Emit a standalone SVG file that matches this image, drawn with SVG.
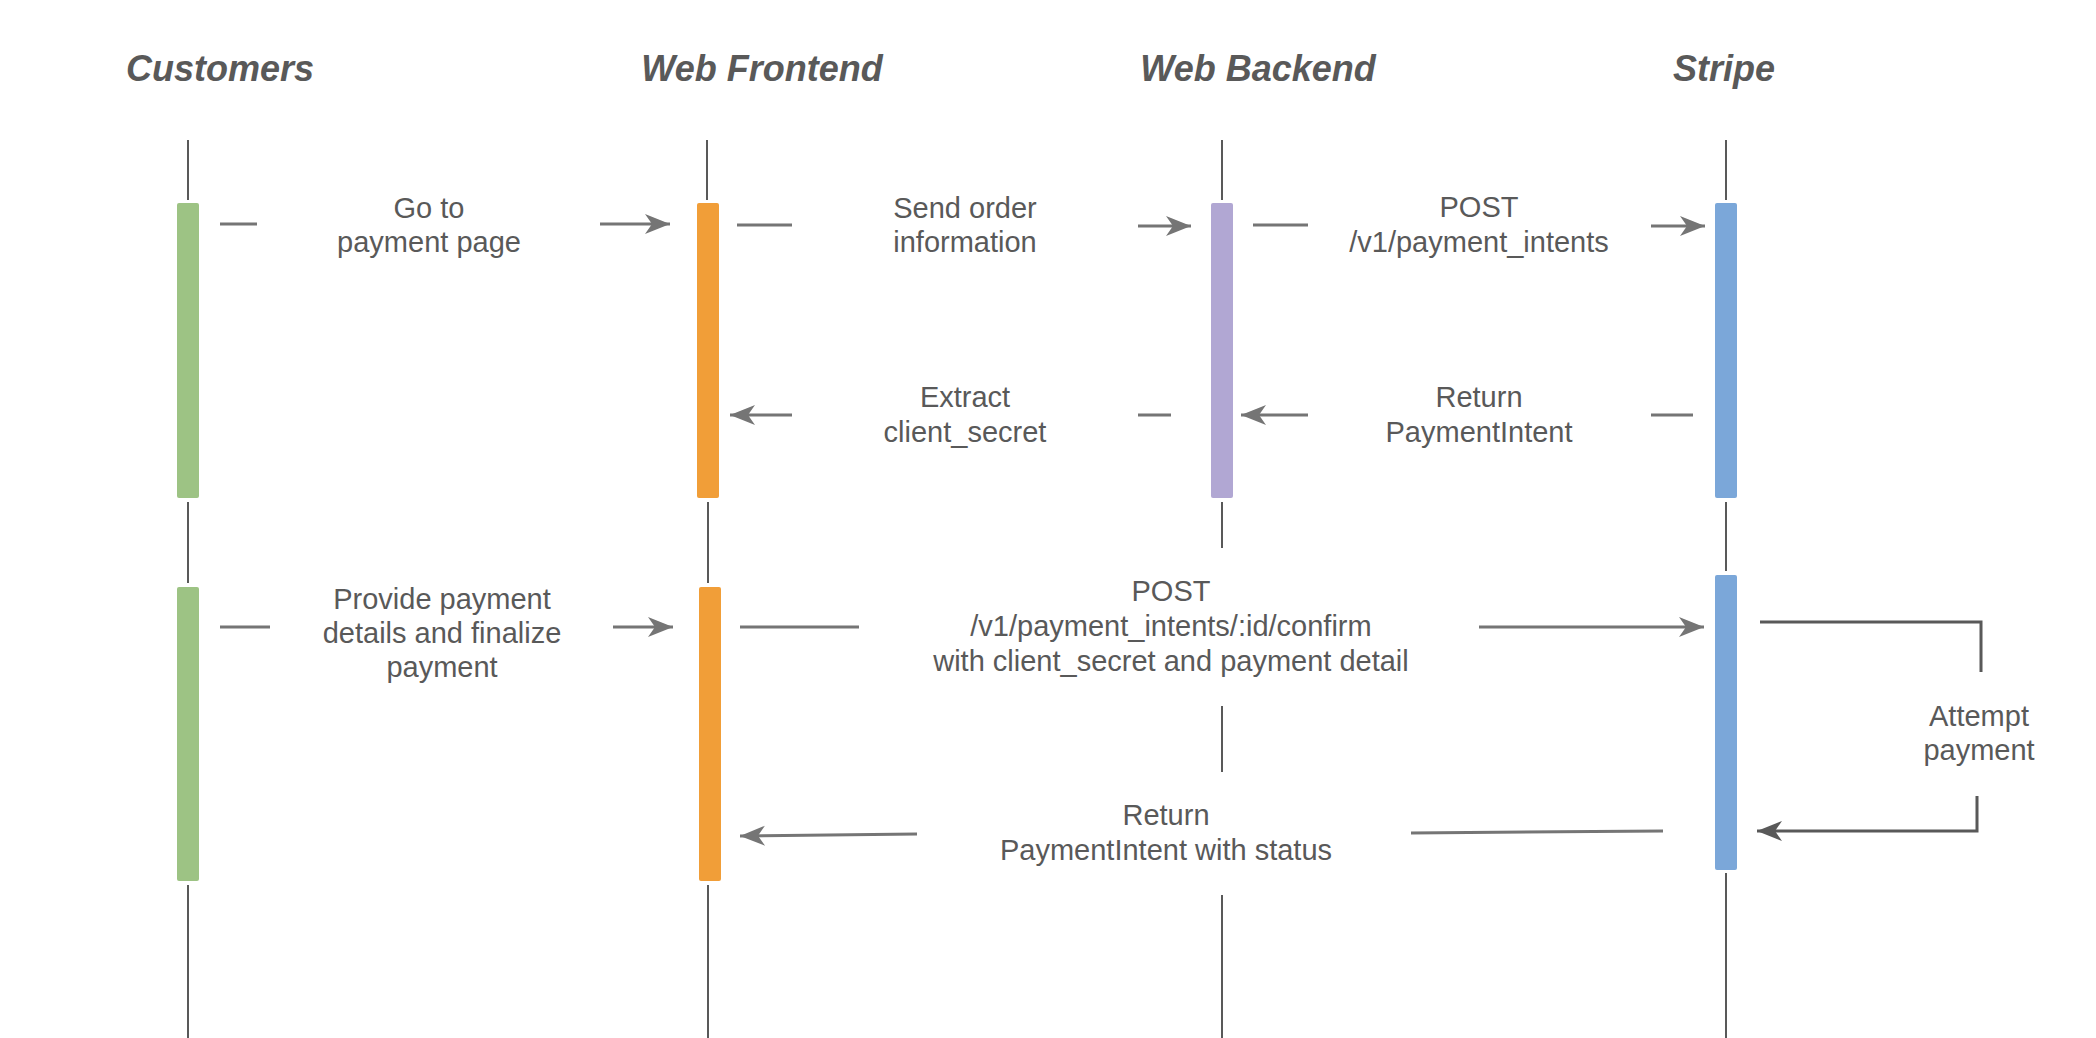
<svg xmlns="http://www.w3.org/2000/svg" width="2096" height="1038" viewBox="0 0 2096 1038">
<style>
.hdr{font-family:"Liberation Sans",Arial,sans-serif;font-size:36px;font-weight:bold;font-style:italic;fill:#595959;text-anchor:middle}
.lbl{font-family:"Liberation Sans",Arial,sans-serif;font-size:29px;fill:#595959;text-anchor:middle}
.life{stroke:#595959;stroke-width:2;fill:none}
.conn{stroke:#757575;stroke-width:3;fill:none}
.loop{stroke:#595959;stroke-width:3;fill:none}
.green{fill:#9dc384}
.orange{fill:#f19e38}
.purple{fill:#b1a7d3}
.blue{fill:#7ba7d9}
</style>
<defs>
<marker id="ah" markerUnits="userSpaceOnUse" markerWidth="30" markerHeight="26" viewBox="-26 -13 30 26" refX="0" refY="0" orient="auto">
<path d="M0,0 L-25,-10 L-18,0 L-25,10 Z" fill="#757575"/>
</marker>
<marker id="ah2" markerUnits="userSpaceOnUse" markerWidth="30" markerHeight="26" viewBox="-26 -13 30 26" refX="0" refY="0" orient="auto">
<path d="M0,0 L-25,-10 L-18,0 L-25,10 Z" fill="#595959"/>
</marker>
</defs>
<rect width="2096" height="1038" fill="#ffffff"/>

<g id="customers">
<text class="hdr" x="220" y="81">Customers</text>
<path class="life" d="M188,140V200M188,502V583M188,885V1038"/>
<rect class="green" x="177" y="203" width="22" height="295" rx="2"/>
<rect class="green" x="177" y="587" width="22" height="294" rx="2"/>
</g>

<g id="web-frontend">
<text class="hdr" x="762" y="81">Web Frontend</text>
<path class="life" d="M707,140V200M708,502V583M708,885V1038"/>
<rect class="orange" x="697" y="203" width="22" height="295" rx="2"/>
<rect class="orange" x="699" y="587" width="22" height="294" rx="2"/>
</g>

<g id="web-backend">
<text class="hdr" x="1258" y="81">Web Backend</text>
<path class="life" d="M1222,140V200M1222,502V548M1222,706V772M1222,895V1038"/>
<rect class="purple" x="1211" y="203" width="22" height="295" rx="2"/>
</g>

<g id="stripe">
<text class="hdr" x="1724" y="81">Stripe</text>
<path class="life" d="M1726,140V200M1726,502V571M1726,873V1038"/>
<rect class="blue" x="1715" y="203" width="22" height="295" rx="2"/>
<rect class="blue" x="1715" y="575" width="22" height="295" rx="2"/>
</g>

<g id="connectors">
<line class="conn" x1="220" y1="224" x2="257" y2="224"/>
<line class="conn" x1="600" y1="224" x2="670" y2="224" marker-end="url(#ah)"/>
<line class="conn" x1="737" y1="225" x2="792" y2="225"/>
<line class="conn" x1="1138" y1="226" x2="1191" y2="226" marker-end="url(#ah)"/>
<line class="conn" x1="1253" y1="225" x2="1308" y2="225"/>
<line class="conn" x1="1651" y1="226" x2="1705" y2="226" marker-end="url(#ah)"/>
<line class="conn" x1="1693" y1="415" x2="1651" y2="415"/>
<line class="conn" x1="1308" y1="415" x2="1241" y2="415" marker-end="url(#ah)"/>
<line class="conn" x1="1171" y1="415" x2="1138" y2="415"/>
<line class="conn" x1="792" y1="415" x2="730" y2="415" marker-end="url(#ah)"/>
<line class="conn" x1="220" y1="627" x2="270" y2="627"/>
<line class="conn" x1="613" y1="627" x2="673" y2="627" marker-end="url(#ah)"/>
<line class="conn" x1="740" y1="627" x2="859" y2="627"/>
<line class="conn" x1="1479" y1="627" x2="1704" y2="627" marker-end="url(#ah)"/>
<polyline class="loop" points="1760,622 1981,622 1981,672"/>
<polyline class="loop" points="1977,796 1977,831 1757,831" marker-end="url(#ah2)"/>
<line class="conn" x1="1663" y1="831" x2="1411" y2="833"/>
<line class="conn" x1="917" y1="834" x2="740" y2="836" marker-end="url(#ah)"/>
</g>

<g id="labels">
<text class="lbl" x="429" y="218">Go to</text>
<text class="lbl" x="429" y="252">payment page</text>
<text class="lbl" x="965" y="218">Send order</text>
<text class="lbl" x="965" y="252">information</text>
<text class="lbl" x="1479" y="217">POST</text>
<text class="lbl" x="1479" y="252">/v1/payment_intents</text>
<text class="lbl" x="965" y="407">Extract</text>
<text class="lbl" x="965" y="442">client_secret</text>
<text class="lbl" x="1479" y="407">Return</text>
<text class="lbl" x="1479" y="442">PaymentIntent</text>
<text class="lbl" x="442" y="609">Provide payment</text>
<text class="lbl" x="442" y="643">details and finalize</text>
<text class="lbl" x="442" y="677">payment</text>
<text class="lbl" x="1171" y="601">POST</text>
<text class="lbl" x="1171" y="636">/v1/payment_intents/:id/confirm</text>
<text class="lbl" x="1171" y="671">with client_secret and payment detail</text>
<text class="lbl" x="1166" y="825">Return</text>
<text class="lbl" x="1166" y="860">PaymentIntent with status</text>
<text class="lbl" x="1979" y="726">Attempt</text>
<text class="lbl" x="1979" y="760">payment</text>
</g>
</svg>
